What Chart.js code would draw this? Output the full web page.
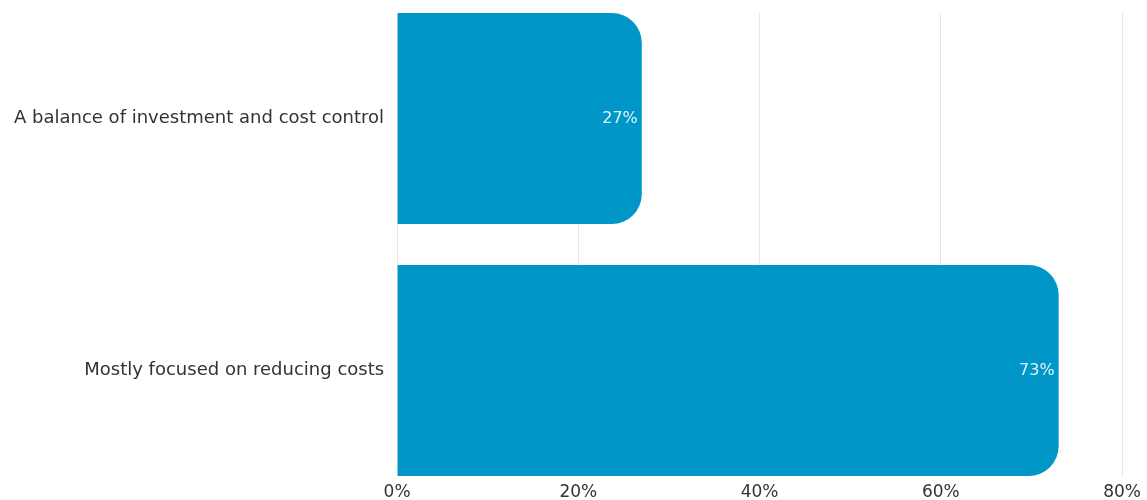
<!DOCTYPE html>
<html>
<head>
<meta charset="utf-8">
<script src="https://cdn.jsdelivr.net/npm/chart.js@4"></script>
<style>
    html, body { margin: 0; padding: 0; background: #fff; }
    #wrap { width: 1147px; height: 500px; }
</style>
</head>
<body>
<div id="wrap"><canvas id="myChart"></canvas></div>
<script>
const categories = ['A balance of investment and cost control', 'Mostly focused on reducing costs'];
const values = [27, 73];
const xTicks = [0, 20, 40, 60, 80];

const barColor = '#0096c8';
const fontFamily = "'DejaVu Sans', sans-serif";

// draws the value text inside the end of each bar
const valueLabels = {
    id: 'valueLabels',
    afterDatasetsDraw(chart) {
        const ctx = chart.ctx;
        const meta = chart.getDatasetMeta(0);
        ctx.save();
        ctx.font = '16px ' + fontFamily;
        ctx.fillStyle = '#e2f2f9';
        ctx.textAlign = 'right';
        ctx.textBaseline = 'middle';
        meta.data.forEach((bar, i) => {
            ctx.fillText(values[i] + '%', bar.x - 4, bar.y);
        });
        ctx.restore();
    }
};

// categories sit on a linear axis so the bars can reach the top and bottom of the plot
const points = values.map((v, i) => ({ x: v, y: i }));

const config = {
    type: 'bar',
    data: {
        datasets: [{
            data: points,
            backgroundColor: barColor,
            borderRadius: { topRight: 30, bottomRight: 30, topLeft: 0, bottomLeft: 0 },
            borderSkipped: false,
            barPercentage: 0.837,
            categoryPercentage: 1
        }]
    },
    options: {
        indexAxis: 'y',
        responsive: true,
        maintainAspectRatio: false,
        animation: false,
        layout: { padding: { top: 13, right: 0, bottom: 0, left: 1 } },
        plugins: {
            legend: { display: false },
            tooltip: { enabled: false }
        },
        scales: {
            x: {
                type: 'linear',
                min: xTicks[0],
                max: xTicks[xTicks.length - 1],
                afterBuildTicks: axis => { axis.ticks = xTicks.map(v => ({ value: v })); },
                afterFit: axis => { axis.height = 24; },
                grid: { color: '#e6e6e6', drawTicks: false },
                border: { display: false },
                ticks: {
                    padding: 6,
                    color: '#333',
                    font: { family: fontFamily, size: 17 },
                    callback: v => v + '%'
                }
            },
            y: {
                type: 'linear',
                offset: false,
                reverse: true,
                min: -0.4187,
                max: categories.length - 1 + 0.4187,
                afterBuildTicks: axis => { axis.ticks = categories.map((c, i) => ({ value: i })); },
                afterFit: axis => { axis.paddingTop = 0; axis.paddingBottom = 0; },
                grid: { display: false, drawTicks: false },
                border: { display: false },
                ticks: {
                    padding: 13,
                    color: '#333',
                    font: { family: fontFamily, size: 18 },
                    callback: v => categories[v]
                }
            }
        }
    },
    plugins: [valueLabels]
};

window.onload = function() {
    const ctx = document.getElementById('myChart').getContext('2d');
    new Chart(ctx, config);
};
</script>
</body>
</html>
